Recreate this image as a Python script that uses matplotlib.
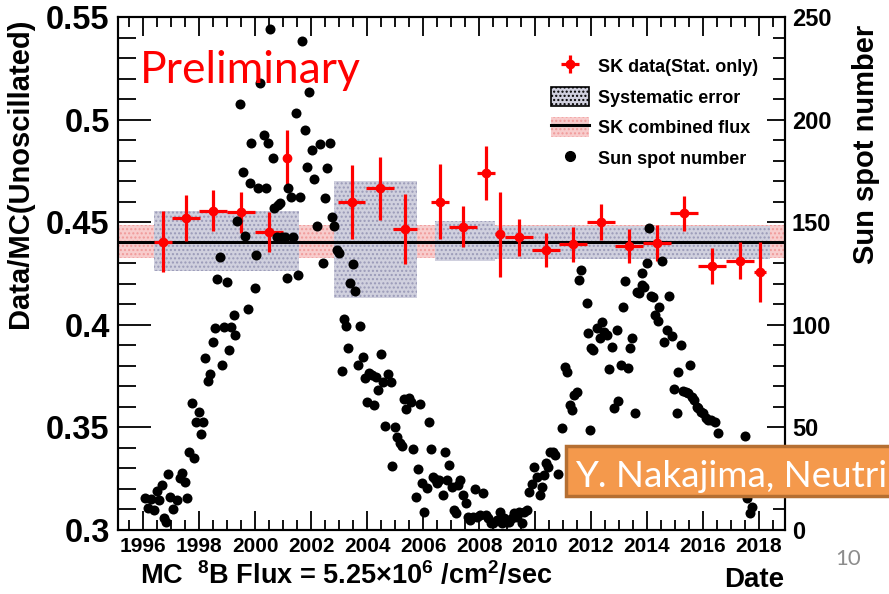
import numpy as np
import matplotlib
matplotlib.use('Agg')
import matplotlib.pyplot as plt
from matplotlib.patches import Rectangle, Patch
from matplotlib.lines import Line2D
from matplotlib.ticker import MultipleLocator, FuncFormatter

plt.rcParams['font.family'] = ['Liberation Sans', 'DejaVu Sans']
plt.rcParams['font.weight'] = 'bold'
plt.rcParams['mathtext.fontset'] = 'custom'
plt.rcParams['mathtext.rm'] = 'Liberation Sans:bold'
plt.rcParams['mathtext.it'] = 'Liberation Sans:bold'
plt.rcParams['mathtext.bf'] = 'Liberation Sans:bold'

# SK yearly flux (Data/MC), stat errors
sk_year = [1996.70, 1997.53, 1998.51, 1999.49, 2000.50, 2001.13, 2003.45, 2004.45, 2005.36,
           2006.61, 2007.42, 2008.24, 2008.73, 2009.41, 2010.38, 2011.37, 2012.36, 2013.36,
           2014.35, 2015.33, 2016.33, 2017.32, 2018.04]
sk_val = [0.4405, 0.4519, 0.4556, 0.4548, 0.4454, 0.4814, 0.4600, 0.4665, 0.4467,
          0.4600, 0.4478, 0.4741, 0.4441, 0.4426, 0.4365, 0.4392, 0.4499, 0.4385,
          0.4400, 0.4543, 0.4287, 0.4313, 0.4256]
sk_err = [0.0149, 0.0112, 0.0101, 0.0101, 0.0098, 0.0134, 0.0181, 0.0154, 0.0170,
          0.0182, 0.0100, 0.0132, 0.0207, 0.0092, 0.0083, 0.0085, 0.0088, 0.0083,
          0.0087, 0.0085, 0.0088, 0.0091, 0.0146]
sk_xerr = [0.33, 0.5, 0.5, 0.5, 0.5, 0.12, 0.48, 0.5, 0.42, 0.32, 0.49, 0.33, 0.16,
           0.5, 0.5, 0.5, 0.5, 0.5, 0.5, 0.5, 0.5, 0.5, 0.2]

# SK-I..IV systematic boxes
phase_start = [1996.37, 2002.80, 2006.43, 2008.57]
phase_end = [2001.57, 2005.78, 2008.57, 2018.40]
phase_val = [0.4410, 0.4415, 0.4408, 0.4403]
phase_sys = [0.0146, 0.0285, 0.0097, 0.0080]

comb_val = 0.4405
comb_err = 0.0081

# monthly sun spot number
ss_year = [1996.07, 1996.17, 1996.29, 1996.37, 1996.49, 1996.55, 1996.67, 1996.73, 1996.81, 1996.90,
           1996.96, 1997.08, 1997.20, 1997.32, 1997.38, 1997.50, 1997.56, 1997.64, 1997.74, 1997.80,
           1997.89, 1997.98, 1998.07, 1998.15, 1998.21, 1998.31, 1998.39, 1998.48, 1998.55, 1998.63,
           1998.73, 1998.81, 1998.87, 1998.99, 1999.05, 1999.14, 1999.23, 1999.29, 1999.35, 1999.46,
           1999.55, 1999.64, 1999.73, 1999.82, 1999.86, 1999.98, 2000.04, 2000.10, 2000.19, 2000.30,
           2000.38, 2000.45, 2000.54, 2000.62, 2000.69, 2000.77, 2000.83, 2000.89, 2000.95, 2001.05,
           2001.13, 2001.19, 2001.29, 2001.37, 2001.45, 2001.52, 2001.61, 2001.69, 2001.79, 2001.85,
           2001.93, 2002.02, 2002.11, 2002.20, 2002.32, 2002.43, 2002.50, 2002.58, 2002.68, 2002.76,
           2002.83, 2002.92, 2003.00, 2003.10, 2003.18, 2003.25, 2003.33, 2003.39, 2003.49, 2003.57,
           2003.66, 2003.75, 2003.85, 2003.93, 2003.99, 2004.08, 2004.17, 2004.23, 2004.32, 2004.40,
           2004.49, 2004.56, 2004.64, 2004.76, 2004.85, 2004.90, 2004.98, 2005.06, 2005.16, 2005.24,
           2005.32, 2005.39, 2005.48, 2005.56, 2005.63, 2005.73, 2005.81, 2005.89, 2005.95, 2006.05,
           2006.13, 2006.21, 2006.27, 2006.35, 2006.43, 2006.49, 2006.57, 2006.70, 2006.79, 2006.85,
           2006.94, 2007.02, 2007.11, 2007.18, 2007.26, 2007.32, 2007.44, 2007.54, 2007.62, 2007.68,
           2007.77, 2007.86, 2007.94, 2008.04, 2008.13, 2008.25, 2008.33, 2008.42, 2008.51, 2008.63,
           2008.73, 2008.81, 2008.89, 2008.99, 2009.08, 2009.17, 2009.26, 2009.35, 2009.44, 2009.52,
           2009.61, 2009.70, 2009.80, 2009.88, 2009.96, 2010.06, 2010.16, 2010.24, 2010.32, 2010.39,
           2010.48, 2010.54, 2010.63, 2010.71, 2010.83, 2010.98, 2011.07, 2011.15, 2011.25, 2011.33,
           2011.40, 2011.49, 2011.57, 2011.64, 2011.84, 2011.90, 2011.96, 2012.00, 2012.08, 2012.20,
           2012.32, 2012.38, 2012.48, 2012.56, 2012.64, 2012.74, 2012.83, 2012.92, 2012.95, 2013.07,
           2013.15, 2013.21, 2013.31, 2013.39, 2013.45, 2013.57, 2013.63, 2013.71, 2013.81, 2013.83,
           2013.90, 2013.99, 2014.07, 2014.14, 2014.23, 2014.29, 2014.38, 2014.44, 2014.55, 2014.62,
           2014.70, 2014.79, 2014.88, 2014.98, 2015.06, 2015.12, 2015.21, 2015.30, 2015.38, 2015.45,
           2015.54, 2015.59, 2015.69, 2015.77, 2015.83, 2015.93, 2016.01, 2016.09, 2016.19, 2016.29,
           2016.43, 2016.52, 2017.50, 2017.56, 2017.68, 2017.74]
ss_num = [15.8, 10.6, 15.1, 9.7, 19.0, 14.6, 21.9, 5.7, 3.7, 27.1,
          16.2, 10.1, 14.6, 25.2, 27.6, 23.6, 15.4, 38.2, 61.7, 34.9,
          52.5, 57.3, 46.6, 52.5, 83.7, 72.6, 75.9, 91.8, 98.3, 122.3,
          133.2, 80.4, 98.8, 120.7, 87.7, 99.1, 104.8, 95.0, 150.6, 207.4,
          174.3, 143.4, 107.7, 169.3, 188.8, 118.1, 134.0, 166.5, 217.7, 192.5,
          166.5, 188.4, 244.1, 181.1, 156.8, 143.0, 158.4, 159.2, 143.0, 143.0,
          122.6, 166.5, 162.4, 143.0, 203.1, 124.3, 162.4, 238.3, 194.9, 177.1,
          213.6, 185.2, 170.9, 148.3, 188.0, 130.0, 162.0, 176.2, 188.4, 152.4,
          148.1, 136.4, 134.8, 77.5, 102.8, 99.6, 88.5, 120.2, 129.5, 116.5,
          80.4, 99.4, 84.5, 74.2, 62.5, 76.3, 75.5, 60.9, 74.7, 68.2,
          85.6, 72.3, 50.8, 75.9, 72.3, 31.4, 50.4, 45.5, 42.2, 41.1,
          63.8, 59.0, 64.5, 62.5, 39.5, 16.2, 29.7, 61.2, 22.7, 8.9,
          20.3, 52.5, 39.5, 26.0, 24.9, 22.7, 24.4, 17.1, 38.2, 24.4,
          31.7, 21.1, 9.7, 8.1, 21.9, 24.4, 17.1, 13.0, 6.5, 4.9,
          6.5, 20.0, 6.5, 7.3, 17.9, 7.3, 5.7, 3.2, 3.2, 4.9,
          8.6, 3.2, 5.7, 4.1, 4.1, 5.7, 8.4, 6.5, 8.9, 3.2,
          8.9, 9.7, 18.4, 22.3, 30.9, 26.0, 17.1, 21.1, 26.8, 32.5,
          30.9, 38.2, 37.8, 36.5, 27.1, 49.5, 79.6, 77.2, 60.9, 58.5,
          65.8, 67.4, 121.8, 126.7, 110.5, 95.8, 48.7, 88.5, 87.7, 98.3,
          93.7, 101.5, 96.7, 95.0, 78.5, 89.3, 59.3, 97.5, 62.9, 80.4,
          108.8, 121.5, 78.8, 88.5, 93.4, 56.9, 116.1, 115.3, 125.1, 119.4,
          118.6, 130.0, 147.0, 114.2, 113.7, 104.8, 101.9, 108.8, 131.1, 91.8,
          97.5, 114.2, 94.7, 68.7, 56.9, 77.2, 90.2, 67.7, 67.4, 66.6,
          80.4, 65.0, 63.4, 60.1, 59.3, 57.7, 56.9, 54.4, 53.6, 53.6,
          52.5, 47.1, 46.0, 15.8, 8.1, 11.0]

fig = plt.figure(figsize=(8.89, 5.94), dpi=100)
ax = fig.add_axes([118/889, 64/594, 667/889, 513/594])
ax2 = ax.twinx()

pink = '#f8cccc'
grey = '#d0d0de'
ax.axhspan(comb_val - comb_err, comb_val + comb_err, facecolor=pink,
           edgecolor='#f09a9a', hatch='....', lw=0, zorder=1)
ax.bar(phase_start, 2*np.array(phase_sys), width=np.array(phase_end) - np.array(phase_start),
       bottom=np.array(phase_val) - np.array(phase_sys), align='edge',
       facecolor=grey, edgecolor='#9a9ab8', hatch='....', lw=0, zorder=2)
ax.axhline(comb_val, color='black', lw=2.2, zorder=3)
sk = ax.errorbar(sk_year, sk_val, yerr=sk_err, xerr=sk_xerr, fmt='o', color='red',
                 ms=6, elinewidth=2.3, capsize=0, zorder=5)

ax2.scatter(ss_year, ss_num, s=52, c='black', linewidths=0, zorder=4)

ax.set_xlim(1995.1, 2018.93)
ax.set_ylim(0.3, 0.55)
ax2.set_ylim(0, 250)

ax.xaxis.set_major_locator(MultipleLocator(2))
ax.xaxis.set_minor_locator(MultipleLocator(0.5))
ax.yaxis.set_major_locator(MultipleLocator(0.05))
ax.yaxis.set_minor_locator(MultipleLocator(0.01))
ax.yaxis.set_major_formatter(FuncFormatter(lambda v, p: '%g' % round(v, 2)))
ax2.yaxis.set_major_locator(MultipleLocator(50))
ax2.yaxis.set_minor_locator(MultipleLocator(10))

ax.tick_params(axis='x', which='both', direction='in', top=True, width=1.3, labelsize=15, pad=5)
ax.tick_params(axis='x', which='major', length=14)
ax.tick_params(axis='x', which='minor', length=7)
ax.tick_params(axis='y', which='both', direction='in', right=False, width=1.3, labelsize=23.5, pad=6)
ax.tick_params(axis='y', which='major', length=24)
ax.tick_params(axis='y', which='minor', length=13)
ax2.tick_params(axis='y', which='both', direction='in', width=1.3, labelsize=17, pad=5)
ax2.tick_params(axis='y', which='major', length=13)
ax2.tick_params(axis='y', which='minor', length=9)
for a in (ax, ax2):
    for s in a.spines.values():
        s.set_linewidth(1.5)

fig.text(20/889, 1 - 18/594, 'Data/MC(Unoscillated)', rotation=90, ha='center', va='top', fontsize=21)
fig.text(866/889, 1 - 25/594, 'Sun spot number', rotation=90, ha='center', va='top', fontsize=21)
fig.text(784/889, 7/594, 'Date', ha='right', va='baseline', fontsize=20)
fig.text(140/889, 10/594, r'MC  $^{8}$B Flux = 5.25×10$^{6}$ /cm$^{2}$/sec', ha='left', va='baseline', fontsize=19.5)

fig.text(140/889, 1 - 83/594, 'Preliminary', color='red', fontsize=32, fontweight='normal',
         family='Lato', va='baseline')

handles = [sk,
           Patch(facecolor=grey, edgecolor='black', hatch='....', lw=1.2),
           (Patch(facecolor=pink, edgecolor='#f09a9a', hatch='....', lw=0), Line2D([], [], color='black', lw=2.2)),
           Line2D([], [], ls='', marker='o', color='black', ms=7)]
labels = ['SK data(Stat. only)', 'Systematic error', 'SK combined flux', 'Sun spot number']
ax2.legend(handles, labels, loc='upper left', bbox_to_anchor=(551/889, 1 - 56/594),
           bbox_transform=fig.transFigure, frameon=False, fontsize=13, handlelength=2.1,
           handleheight=1.3, labelspacing=0.6, handletextpad=0.5, borderpad=0, borderaxespad=0)

# slide overlay: citation box and page number
fig.patches.append(Rectangle((566/889, 98/594), 0.4, 50/594, transform=fig.transFigure,
                             facecolor='#f4994c', edgecolor='#b56f32', lw=2.5, zorder=10))
fig.text(575/889, 1 - 487/594, 'Y. Nakajima, Neutrino 2018', color='white', fontsize=26.5,
         fontweight='normal', family='Lato', va='baseline', zorder=11)
fig.text(835/889, 1 - 565/594, '10', color='#8c8c8c', fontsize=16, fontweight='normal',
         family='Lato', va='baseline')

fig.savefig('out.png', dpi=100)
